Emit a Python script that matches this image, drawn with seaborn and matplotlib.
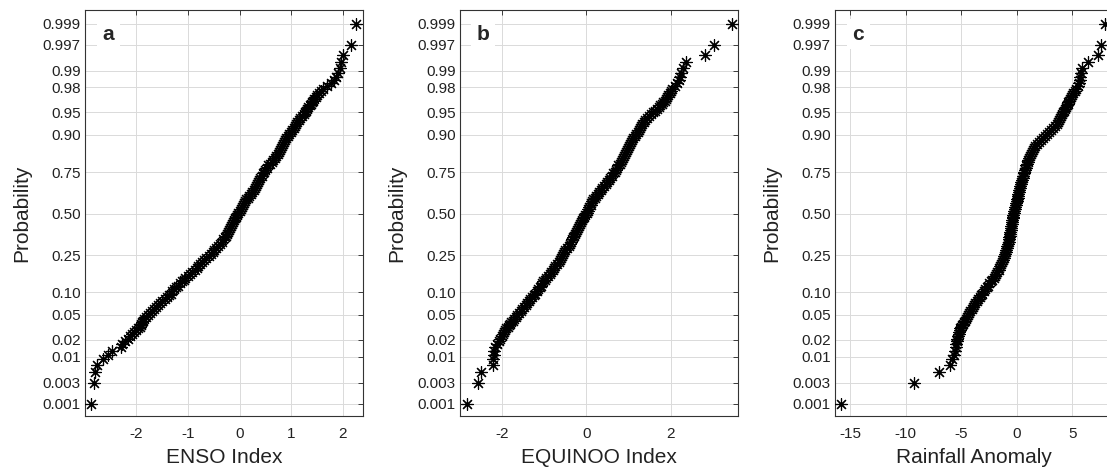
import numpy as np
import pandas as pd
import matplotlib
matplotlib.use("Agg")
import matplotlib.pyplot as plt
import seaborn as sns
from statistics import NormalDist

# plotting positions (i-0.5)/n picked along the sorted samples, n = 500
prob = [0.001, 0.003, 0.005, 0.007, 0.009, 0.011, 0.013, 0.015, 0.017, 0.019,
        0.021, 0.023, 0.025, 0.027, 0.029, 0.031, 0.033, 0.035, 0.037, 0.039,
        0.041, 0.044, 0.047, 0.050, 0.053, 0.057, 0.061, 0.065, 0.069, 0.073,
        0.077, 0.082, 0.087, 0.092, 0.097, 0.103, 0.109, 0.115, 0.121, 0.128,
        0.135, 0.142, 0.149, 0.157, 0.165, 0.173, 0.181, 0.190, 0.199, 0.208,
        0.217, 0.227, 0.237, 0.247, 0.257, 0.268, 0.279, 0.290, 0.301, 0.313,
        0.325, 0.337, 0.349, 0.361, 0.373, 0.385, 0.397, 0.409, 0.421, 0.433,
        0.445, 0.457, 0.469, 0.481, 0.493,
        0.507, 0.519, 0.531, 0.543, 0.555, 0.567, 0.579, 0.591, 0.603, 0.615,
        0.627, 0.639, 0.651, 0.663, 0.675, 0.687, 0.699, 0.710, 0.721, 0.732,
        0.743, 0.753, 0.763, 0.773, 0.783, 0.792, 0.801, 0.810, 0.819, 0.827,
        0.835, 0.843, 0.851, 0.858, 0.865, 0.872, 0.879, 0.885, 0.891, 0.897,
        0.903, 0.908, 0.913, 0.918, 0.923, 0.927, 0.931, 0.935, 0.939, 0.943,
        0.947, 0.950, 0.953, 0.956, 0.959, 0.961, 0.963, 0.965, 0.967, 0.969,
        0.971, 0.973, 0.975, 0.977, 0.979, 0.981, 0.983, 0.985, 0.987, 0.989,
        0.991, 0.993, 0.995, 0.997, 0.999]

# sorted sample values
enso_x = [-2.87, -2.82, -2.80, -2.75, -2.65, -2.55, -2.47, -2.29, -2.27, -2.21,
          -2.15, -2.12, -2.08, -2.04, -2.00, -1.96, -1.93, -1.91, -1.90, -1.88,
          -1.87, -1.84, -1.81, -1.77, -1.74, -1.69, -1.66, -1.61, -1.57, -1.54,
          -1.50, -1.45, -1.41, -1.37, -1.33, -1.30, -1.26, -1.23, -1.19, -1.16,
          -1.12, -1.08, -1.05, -1.00, -0.95, -0.91, -0.87, -0.83, -0.80, -0.76,
          -0.72, -0.68, -0.64, -0.60, -0.56, -0.52, -0.49, -0.45, -0.41, -0.37,
          -0.34, -0.32, -0.29, -0.27, -0.24, -0.22, -0.20, -0.19, -0.17, -0.15,
          -0.13, -0.11, -0.09, -0.07, -0.05,
          -0.02, 0.00, 0.02, 0.04, 0.06, 0.08, 0.11, 0.13, 0.16, 0.19,
          0.22, 0.25, 0.28, 0.30, 0.31, 0.33, 0.35, 0.37, 0.40, 0.43,
          0.45, 0.47, 0.50, 0.53, 0.56, 0.59, 0.62, 0.65, 0.68, 0.71,
          0.74, 0.77, 0.79, 0.81, 0.83, 0.85, 0.86, 0.88, 0.90, 0.93,
          0.96, 0.99, 1.02, 1.05, 1.08, 1.10, 1.12, 1.15, 1.18, 1.21,
          1.24, 1.26, 1.28, 1.30, 1.33, 1.36, 1.38, 1.40, 1.43, 1.45,
          1.48, 1.50, 1.53, 1.57, 1.62, 1.70, 1.78, 1.83, 1.87, 1.91,
          1.94, 1.97, 2.00, 2.15, 2.26]

equinoo_x = [-2.83, -2.58, -2.50, -2.22, -2.21, -2.19, -2.18, -2.16, -2.12, -2.08,
             -2.04, -2.01, -1.98, -1.96, -1.93, -1.90, -1.87, -1.84, -1.81, -1.78,
             -1.75, -1.71, -1.68, -1.64, -1.60, -1.56, -1.52, -1.47, -1.43, -1.40,
             -1.37, -1.33, -1.29, -1.25, -1.21, -1.18, -1.14, -1.10, -1.07, -1.05,
             -1.02, -0.99, -0.95, -0.91, -0.87, -0.83, -0.80, -0.77, -0.74, -0.70,
             -0.66, -0.63, -0.60, -0.57, -0.55, -0.52, -0.50, -0.46, -0.42, -0.39,
             -0.36, -0.34, -0.32, -0.30, -0.27, -0.25, -0.22, -0.20, -0.17, -0.15,
             -0.12, -0.10, -0.07, -0.05, -0.02,
             0.01, 0.03, 0.05, 0.07, 0.10, 0.12, 0.14, 0.17, 0.20, 0.23,
             0.27, 0.31, 0.35, 0.38, 0.42, 0.46, 0.50, 0.53, 0.57, 0.61,
             0.64, 0.67, 0.70, 0.73, 0.76, 0.79, 0.82, 0.85, 0.88, 0.90,
             0.92, 0.95, 0.97, 0.99, 1.01, 1.04, 1.06, 1.09, 1.12, 1.16,
             1.19, 1.22, 1.25, 1.28, 1.31, 1.33, 1.36, 1.39, 1.43, 1.48,
             1.53, 1.58, 1.63, 1.68, 1.72, 1.76, 1.80, 1.83, 1.86, 1.89,
             1.92, 1.95, 1.98, 2.01, 2.04, 2.10, 2.15, 2.19, 2.22, 2.26,
             2.30, 2.37, 2.82, 3.04, 3.45]

rain_x = [-15.8, -9.3, -7.0, -6.0, -5.8, -5.65, -5.55, -5.5, -5.45, -5.4,
          -5.36, -5.3, -5.25, -5.2, -5.15, -5.08, -5.0, -4.93, -4.85, -4.78,
          -4.7, -4.62, -4.53, -4.42, -4.3, -4.18, -4.07, -3.96, -3.85, -3.75,
          -3.63, -3.5, -3.35, -3.22, -3.1, -2.97, -2.85, -2.73, -2.6, -2.48,
          -2.36, -2.22, -2.1, -1.97, -1.85, -1.75, -1.65, -1.57, -1.49, -1.42,
          -1.35, -1.28, -1.2, -1.12, -1.05, -1.0, -0.95, -0.9, -0.85, -0.8,
          -0.75, -0.72, -0.68, -0.65, -0.62, -0.58, -0.55, -0.52, -0.5, -0.47,
          -0.44, -0.41, -0.38, -0.35, -0.32,
          -0.27, -0.23, -0.19, -0.15, -0.11, -0.07, -0.02, 0.02, 0.06, 0.10,
          0.14, 0.19, 0.23, 0.27, 0.31, 0.36, 0.41, 0.46, 0.52, 0.57,
          0.62, 0.67, 0.73, 0.79, 0.86, 0.92, 0.98, 1.04, 1.11, 1.17,
          1.24, 1.33, 1.43, 1.55, 1.66, 1.82, 2.0, 2.17, 2.33, 2.52,
          2.72, 2.88, 3.05, 3.25, 3.45, 3.58, 3.68, 3.80, 3.92, 4.0,
          4.08, 4.16, 4.25, 4.33, 4.42, 4.50, 4.58, 4.65, 4.72, 4.80,
          4.88, 5.0, 5.1, 5.22, 5.35, 5.55, 5.62, 5.66, 5.7, 5.74,
          5.84, 6.38, 7.28, 7.57, 7.93]

prob_ticks = [0.001, 0.003, 0.01, 0.02, 0.05, 0.10, 0.25, 0.50,
              0.75, 0.90, 0.95, 0.98, 0.99, 0.997, 0.999]
prob_labels = ['0.001', '0.003', '0.01', '0.02', '0.05', '0.10', '0.25', '0.50',
               '0.75', '0.90', '0.95', '0.98', '0.99', '0.997', '0.999']

panel_letters = ['a', 'b', 'c']
x_labels = ['ENSO Index', 'EQUINOO Index', 'Rainfall Anomaly']
x_ticks = [[-2, -1, 0, 1, 2], [-2, 0, 2], [-15, -10, -5, 0, 5]]
x_limits = [(-2.99, 2.39), (-3.0, 3.6), (-16.38, 8.66)]

sns.set_theme(style="white")
plt.rcParams['font.family'] = ['Liberation Sans', 'DejaVu Sans']

nd = NormalDist()
_ppf = np.vectorize(nd.inv_cdf, otypes=[float])
_cdf = np.vectorize(nd.cdf, otypes=[float])


def p_to_z(p):
    p = np.asarray(p, dtype=float)
    p = np.where(np.isfinite(p), p, 0.5)
    return _ppf(np.clip(p, 1e-12, 1 - 1e-12))


def z_to_p(z):
    z = np.asarray(z, dtype=float)
    z = np.where(np.isfinite(z), z, 0.0)
    return _cdf(z)


fig = plt.figure(figsize=(11.07, 4.67), dpi=100)
lefts = [0.0768, 0.4155, 0.7543]
samples = [enso_x, equinoo_x, rain_x]
edge = '#333333'

for i in range(3):
    ax = fig.add_axes([lefts[i], 0.1092, 0.2511, 0.8694])
    df = pd.DataFrame({'value': samples[i], 'prob': prob})
    ax.set_yscale('function', functions=(p_to_z, z_to_p))
    sns.scatterplot(data=df, x='value', y='prob', ax=ax, marker=(8, 2, 0),
                    color='black', s=72, linewidth=0.85, zorder=3)
    ax.set_ylim(z_to_p(-3.29), z_to_p(3.31))
    ax.set_xlim(*x_limits[i])
    ax.set_yticks(prob_ticks)
    ax.set_yticklabels(prob_labels)
    ax.set_xticks(x_ticks[i])
    ax.set_xticklabels([str(t) for t in x_ticks[i]])
    ax.yaxis.set_minor_locator(matplotlib.ticker.NullLocator())
    ax.grid(True, color='#dadada', linewidth=0.7)
    ax.set_axisbelow(True)
    ax.tick_params(direction='in', top=True, right=True, length=3.5, width=0.6,
                   colors='#222222', labelsize=11, pad=3)
    ax.tick_params(axis='x', pad=8)
    for sp in ax.spines.values():
        sp.set_color(edge)
        sp.set_linewidth(0.8)
    ax.set_xlabel(x_labels[i], fontsize=15, labelpad=5, color='#222222')
    ax.set_ylabel('Probability', fontsize=15, labelpad=8, color='#222222')
    ax.text(0.083, 0.94, panel_letters[i], transform=ax.transAxes, fontsize=15,
            fontweight='bold', ha='center', va='center', zorder=4,
            bbox=dict(facecolor='white', edgecolor='none', pad=4))

fig.savefig('out.png', dpi=100)
